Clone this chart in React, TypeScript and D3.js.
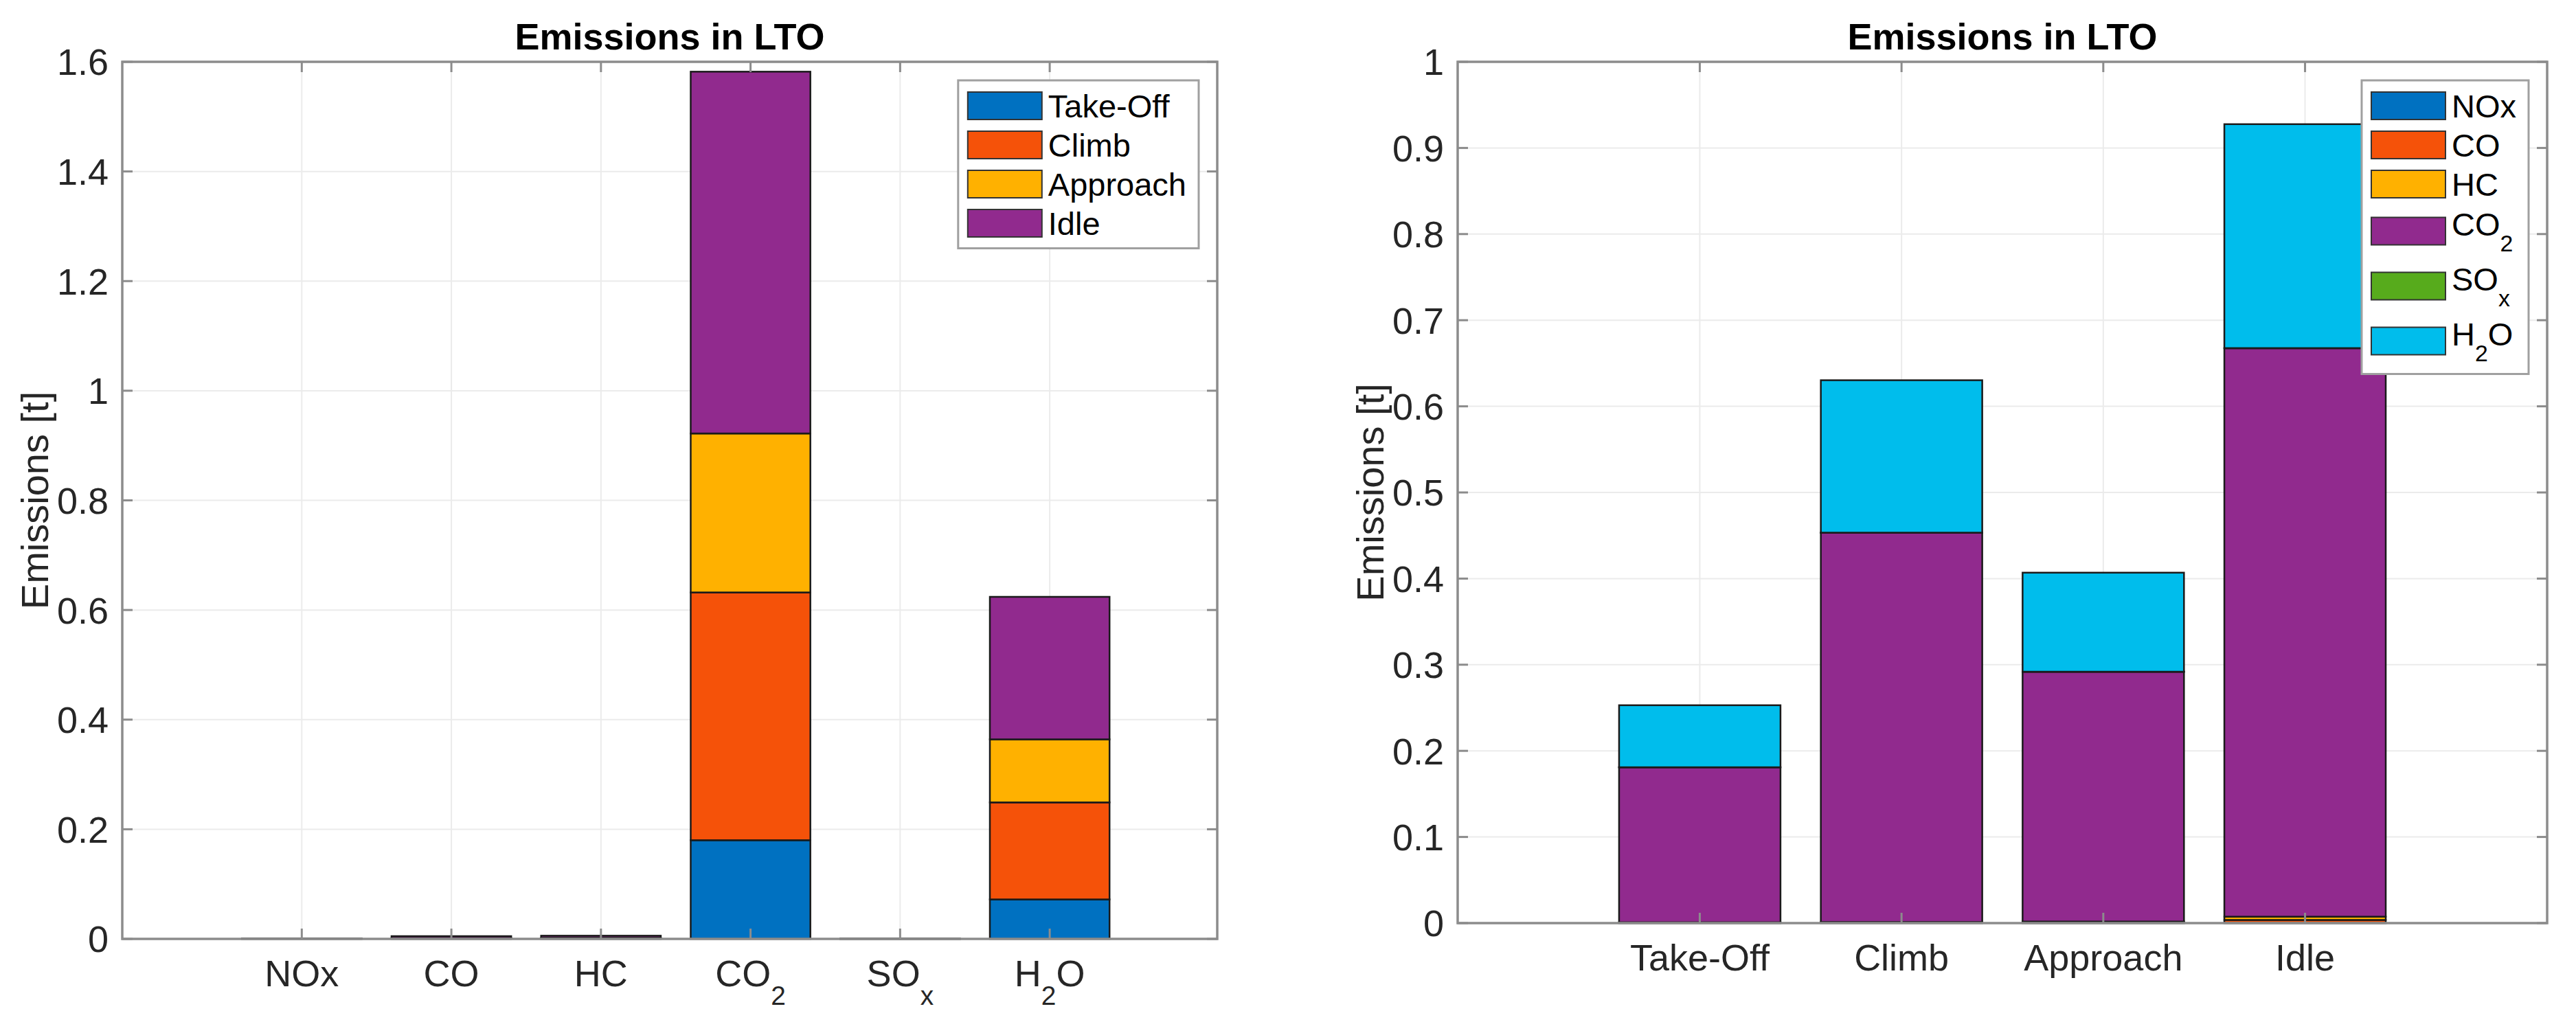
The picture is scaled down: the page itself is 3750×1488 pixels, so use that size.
import * as d3 from 'd3';
import { useEffect, useRef } from 'react';

// Pollutants and LTO phases
const species = ['NOx', 'CO', 'HC', 'CO_2', 'SO_x', 'H_2O'];
const speciesLegend = ['NOx', 'CO', 'HC', 'CO_2', 'SO_x', 'H_2O'];
const phases = ['Take-Off', 'Climb', 'Approach', 'Idle'];

// Emissions [t] for each pollutant (same order as species), one array per phase
const takeOff = [0.0001, 0.0003, 0.0005, 0.18, 0.00005, 0.072];
const climb = [0.0003, 0.0004, 0.0005, 0.452, 0.0001, 0.177];
const approach = [0.0001, 0.0007, 0.001, 0.29, 0.00007, 0.115];
const idle = [0.00005, 0.0036, 0.0038, 0.66, 0.00015, 0.26];

const leftYTicks = [0, 0.2, 0.4, 0.6, 0.8, 1, 1.2, 1.4, 1.6];
const rightYTicks = [0, 0.1, 0.2, 0.3, 0.4, 0.5, 0.6, 0.7, 0.8, 0.9, 1];

const phaseColors = ['#0071c1', '#f55209', '#ffb100', '#912a8e'];
const speciesColors = ['#0071c1', '#f55209', '#ffb100', '#912a8e', '#57ab1c', '#00bdec'];

const W = 3750;
const H = 1488;
const FONT = '"Liberation Sans", Arial, Helvetica, sans-serif';
const TEXT = '#262626';

interface Panel {
    left: number;
    right: number;
    top: number;
    bottom: number;
    xDomain: [number, number];
    yTicks: number[];
    categories: string[];
    keys: string[];
    keyLabels: string[];
    colors: string[];
    rows: Record<string, number | string>[];
}

// writes "CO_2" style labels as text with subscript tspans
function richText(text: d3.Selection<SVGTextElement, unknown, null, undefined>, label: string, size: number) {
    const parts = label.split(/(_.)/).filter((s) => s.length);
    let down = false;
    parts.forEach((part) => {
        const sub = part.startsWith('_');
        const t = text.append('tspan').text(sub ? part.slice(1) : part);
        if (sub) {
            t.attr('dy', size * 0.5).style('font-size', `${size * 0.72}px`);
            down = true;
        } else if (down) {
            t.attr('dy', -size * 0.5);
            down = false;
        }
    });
}

function drawPanel(svg: d3.Selection<SVGSVGElement, unknown, null, undefined>, p: Panel) {
    const yMax = p.yTicks[p.yTicks.length - 1];
    const xScale = d3.scaleLinear().domain(p.xDomain).range([p.left, p.right]);
    const yScale = d3.scaleLinear().domain([0, yMax]).range([p.bottom, p.top]);
    const barW = xScale(0.8) - xScale(0);
    const catX = p.categories.map((_, i) => xScale(i + 1));

    const g = svg.append('g').style('font-family', FONT);

    // Grid
    g.selectAll('.hgrid')
        .data(p.yTicks)
        .enter()
        .append('line')
        .attr('x1', p.left)
        .attr('x2', p.right)
        .attr('y1', (d) => yScale(d))
        .attr('y2', (d) => yScale(d))
        .attr('stroke', '#ebebeb')
        .attr('stroke-width', 2);

    g.selectAll('.vgrid')
        .data(catX)
        .enter()
        .append('line')
        .attr('x1', (d) => d)
        .attr('x2', (d) => d)
        .attr('y1', p.top)
        .attr('y2', p.bottom)
        .attr('stroke', '#ebebeb')
        .attr('stroke-width', 2);

    // Stacked bars
    const series = d3.stack<Record<string, number | string>>().keys(p.keys)(p.rows);
    series.forEach((s, si) => {
        g.append('g')
            .selectAll('rect')
            .data(s)
            .enter()
            .append('rect')
            .attr('x', (_, i) => catX[i] - barW / 2)
            .attr('width', barW)
            .attr('y', (d) => yScale(d[1]))
            .attr('height', (d) => Math.max(0, yScale(d[0]) - yScale(d[1])))
            .attr('fill', p.colors[si])
            .attr('stroke', '#1a1a1a')
            .attr('stroke-width', 2.5);
    });

    // Box and ticks
    const axisColor = '#8c8c8c';
    const tickLen = 15;
    g.append('rect')
        .attr('x', p.left)
        .attr('y', p.top)
        .attr('width', p.right - p.left)
        .attr('height', p.bottom - p.top)
        .attr('fill', 'none')
        .attr('stroke', axisColor)
        .attr('stroke-width', 3.5);

    p.yTicks.forEach((t) => {
        const y = yScale(t);
        g.append('line').attr('x1', p.left).attr('x2', p.left + tickLen).attr('y1', y).attr('y2', y)
            .attr('stroke', axisColor).attr('stroke-width', 3);
        g.append('line').attr('x1', p.right).attr('x2', p.right - tickLen).attr('y1', y).attr('y2', y)
            .attr('stroke', axisColor).attr('stroke-width', 3);
        g.append('text')
            .attr('x', p.left - 20)
            .attr('y', y)
            .attr('dy', '0.36em')
            .attr('text-anchor', 'end')
            .attr('fill', TEXT)
            .style('font-size', '54px')
            .text(String(t));
    });

    catX.forEach((x, i) => {
        g.append('line').attr('x1', x).attr('x2', x).attr('y1', p.bottom).attr('y2', p.bottom - tickLen)
            .attr('stroke', axisColor).attr('stroke-width', 3);
        g.append('line').attr('x1', x).attr('x2', x).attr('y1', p.top).attr('y2', p.top + tickLen)
            .attr('stroke', axisColor).attr('stroke-width', 3);
        const t = g.append('text')
            .attr('x', x)
            .attr('y', p.bottom + 69)
            .attr('text-anchor', 'middle')
            .attr('fill', TEXT)
            .style('font-size', '54px');
        richText(t, p.categories[i], 54);
    });

    // Title and y label
    g.append('text')
        .attr('x', (p.left + p.right) / 2)
        .attr('y', 72)
        .attr('text-anchor', 'middle')
        .attr('fill', '#000')
        .style('font-size', '54px')
        .style('font-weight', 'bold')
        .text('Emissions in LTO');

    g.append('text')
        .attr('transform', `translate(${p.left - 108},${(p.top + p.bottom) / 2}) rotate(-90)`)
        .attr('text-anchor', 'middle')
        .attr('fill', TEXT)
        .style('font-size', '56px')
        .text('Emissions [t]');

    // Legend
    const legend = g.append('g');
    const box = legend.append('rect')
        .attr('fill', '#fff')
        .attr('stroke', '#a0a0a0')
        .attr('stroke-width', 3);
    const rowH = (lbl: string) => (lbl.includes('_') ? 80 : 57);
    const boxTop = p.top + 27;
    let center = boxTop + 37;
    let maxW = 0;
    p.keyLabels.forEach((lbl, i) => {
        if (i > 0) center += (rowH(p.keyLabels[i - 1]) + rowH(lbl)) / 2;
        legend.append('rect')
            .attr('x', 14)
            .attr('y', center - 20)
            .attr('width', 108)
            .attr('height', 40)
            .attr('fill', p.colors[i])
            .attr('stroke', '#333')
            .attr('stroke-width', 2);
        const t = legend.append('text')
            .attr('x', 131)
            .attr('y', center + (lbl.includes('_') ? 6 : 17))
            .attr('fill', '#000')
            .style('font-size', '47px');
        richText(t, lbl, 47);
        maxW = Math.max(maxW, (t.node() as SVGTextElement).getBBox().width);
    });
    const last = p.keyLabels[p.keyLabels.length - 1];
    const boxW = 131 + maxW + 18;
    const boxBottom = center + rowH(last) / 2 + 8;
    box.attr('x', 0).attr('y', boxTop).attr('width', boxW).attr('height', boxBottom - boxTop);
    legend.attr('transform', `translate(${p.right - 27 - boxW},0)`);
}

export default function App() {
    const svgRef = useRef<SVGSVGElement>(null);

    useEffect(() => {
        const svg = d3.select(svgRef.current as SVGSVGElement);
        svg.selectAll('*').remove();
        svg.append('rect').attr('width', W).attr('height', H).attr('fill', '#fff');

        const byPhase = [takeOff, climb, approach, idle];

        // Left: pollutants on x, stacked by phase
        const leftRows = species.map((s, i) => {
            const row: Record<string, number | string> = { key: s };
            phases.forEach((ph, j) => (row[ph] = byPhase[j][i]));
            return row;
        });

        // Right: phases on x, stacked by pollutant
        const rightRows = phases.map((ph, j) => {
            const row: Record<string, number | string> = { key: ph };
            species.forEach((s, i) => (row[s] = byPhase[j][i]));
            return row;
        });

        drawPanel(svg, {
            left: 178, right: 1772, top: 90, bottom: 1367,
            xDomain: [-0.2, 7.12],
            yTicks: leftYTicks,
            categories: species,
            keys: phases,
            keyLabels: phases,
            colors: phaseColors,
            rows: leftRows,
        });

        drawPanel(svg, {
            left: 2122, right: 3708, top: 90, bottom: 1344,
            xDomain: [-0.2, 5.2],
            yTicks: rightYTicks,
            categories: phases,
            keys: species,
            keyLabels: speciesLegend,
            colors: speciesColors,
            rows: rightRows,
        });
    }, []);

    return (
        <svg
            ref={svgRef}
            width={W}
            height={H}
            style={{ position: 'absolute', left: 0, top: 0, fontFamily: FONT }}
        />
    );
}
